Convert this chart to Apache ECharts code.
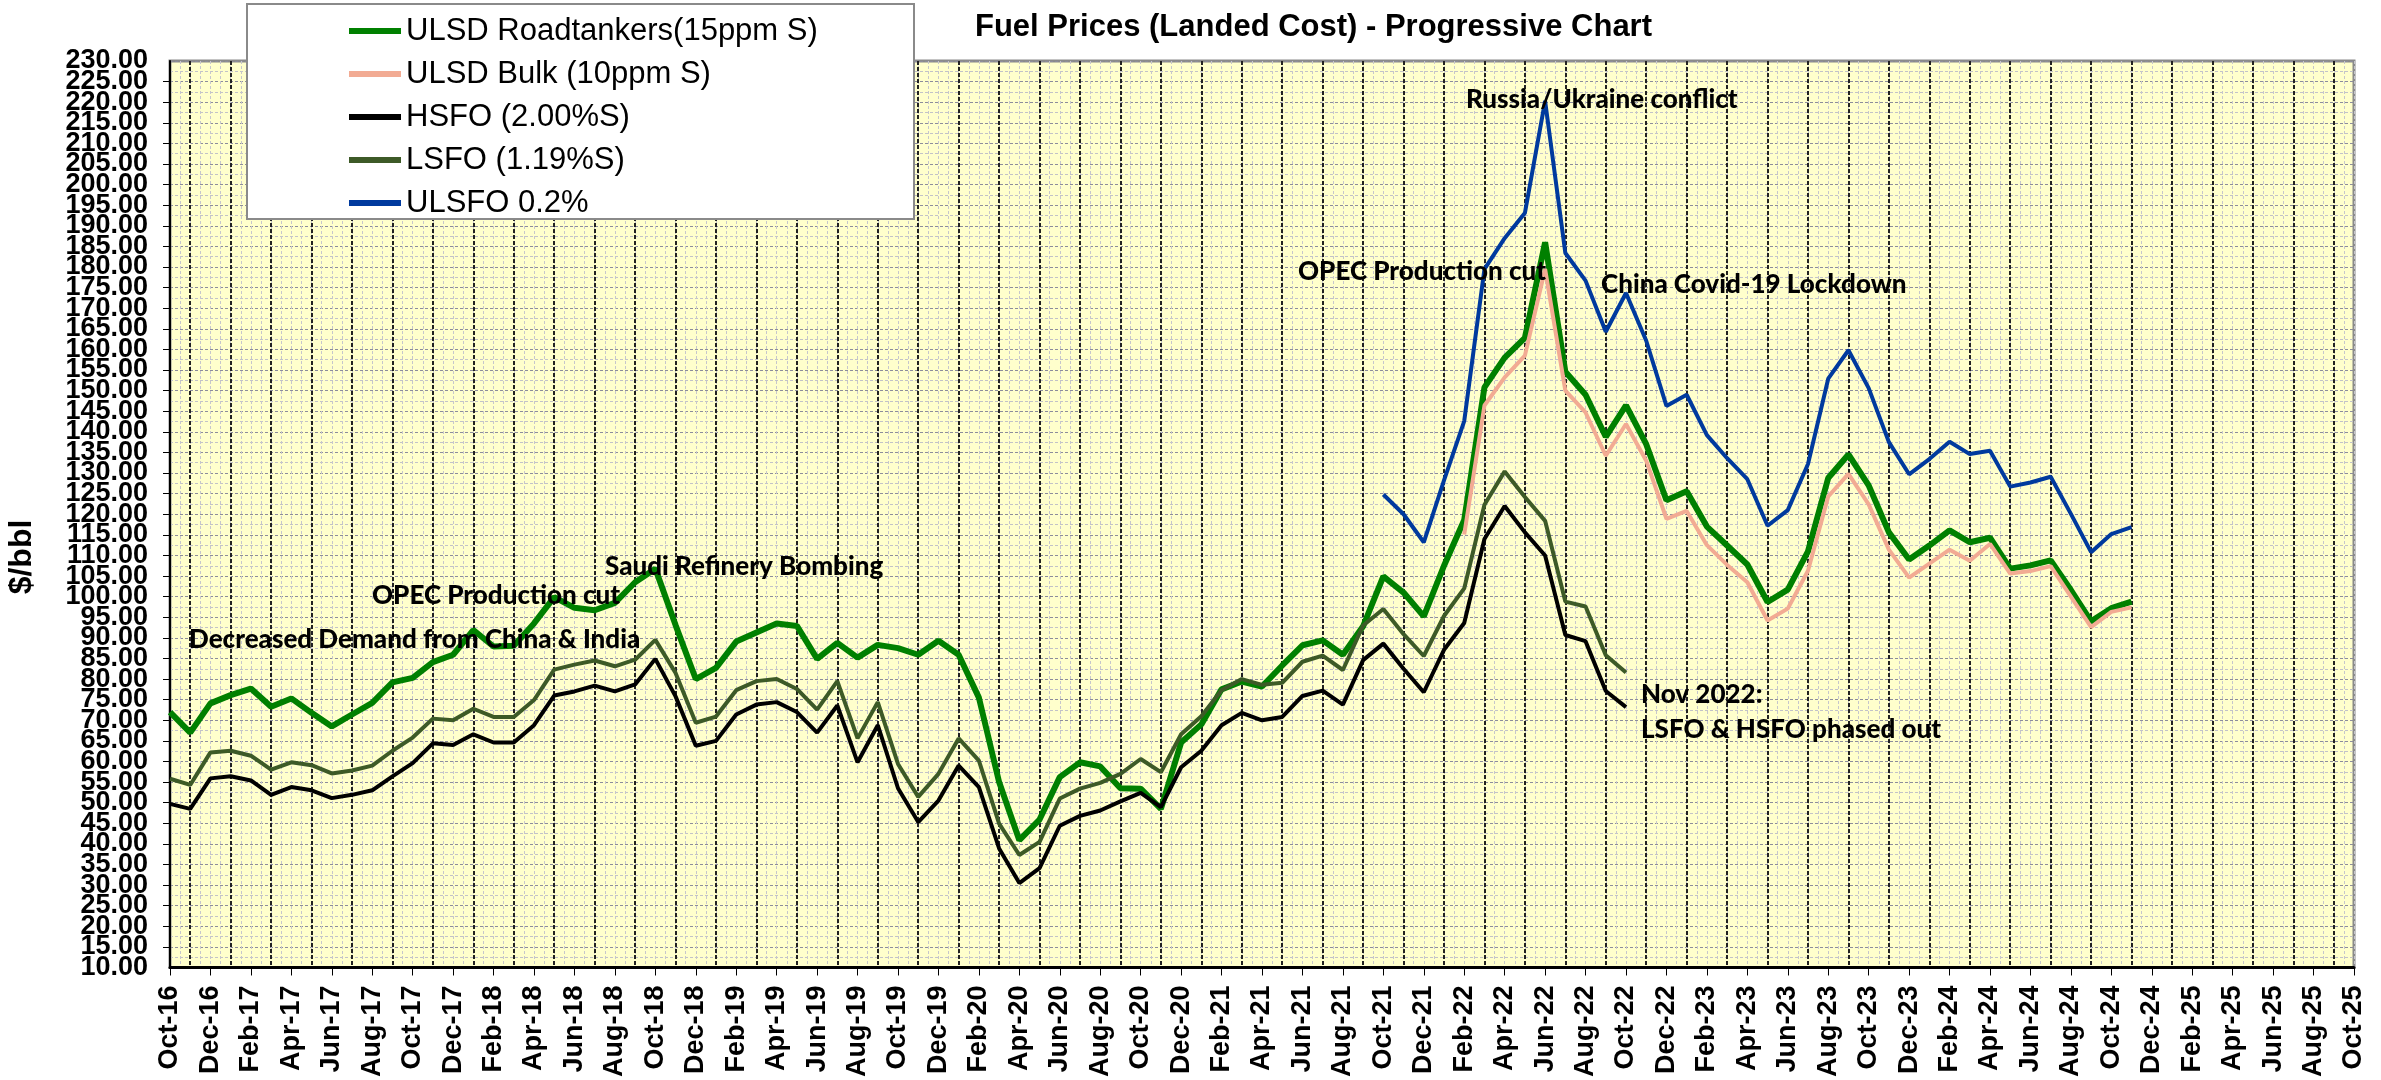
<!DOCTYPE html>
<html>
<head>
<meta charset="utf-8">
<title>Fuel Prices (Landed Cost) - Progressive Chart</title>
<script src="https://cdn.jsdelivr.net/npm/echarts@6/dist/echarts.min.js"></script>
<style>
  html, body { margin: 0; padding: 0; background: #fff; }
  #chart { width: 2381px; height: 1080px; }
</style>
</head>
<body>
<div id="chart"></div>
<script>
  // x axis: monthly from Oct-16 to Oct-25
  var monthNames = ['Jan', 'Feb', 'Mar', 'Apr', 'May', 'Jun', 'Jul', 'Aug', 'Sep', 'Oct', 'Nov', 'Dec'];
  var categories = [];
  for (var k = 0; k < 109; k++) {
    categories.push(monthNames[(9 + k) % 12] + '-' + (16 + Math.floor((9 + k) / 12)));
  }

  // ULSD Roadtankers (15ppm S), Oct-16 .. Nov-24
  var ulsdRoad = [
    72.0, 67.0, 74.1, 76.1, 77.7, 73.3, 75.3, 71.8, 68.5, 71.4, 74.2, 79.2,
    80.3, 84.1, 85.9, 91.9, 87.9, 88.1, 93.5, 99.9, 97.3, 96.7, 98.5, 103.5,
    106.8, 93.1, 80.0, 82.7, 89.1, 91.3, 93.5, 92.9, 84.9, 88.8, 85.2, 88.3,
    87.5, 85.9, 89.3, 85.9, 75.5, 55.0, 40.9, 45.9, 56.2, 59.8, 58.8, 53.5,
    53.4, 48.5, 64.6, 69.0, 77.5, 79.4, 78.2, 83.3, 88.2, 89.4, 85.9, 92.8,
    104.9, 101.0, 95.2, 107.5, 118.6, 150.8, 158.0, 162.8, 186.0, 154.6, 149.0, 138.8,
    146.4, 137.0, 123.4, 125.6, 117.0, 112.4, 107.8, 98.7, 101.7, 111.0, 128.8, 134.5,
    127.0, 115.6, 109.0, 112.4, 116.1, 113.2, 114.3, 106.8, 107.6, 108.8, 101.6, 94.0,
    97.2, 98.8
  ];

  // ULSD Bulk (10ppm S), Feb-22 .. Nov-24
  var ulsdBulk = [
    115.1, 146.4, 153.2, 158.5, 179.5, 150.0, 144.7, 134.2, 141.9, 133.0, 118.9, 120.8,
    112.5, 107.7, 103.5, 94.2, 97.1, 106.3, 124.3, 129.8, 122.4, 111.4, 104.6, 108.0,
    111.4, 108.7, 112.8, 105.6, 106.2, 107.4, 100.0, 92.6, 96.3, 97.4
  ];

  // HSFO (2.00%S), Oct-16 .. Oct-22
  var hsfo = [
    49.7, 48.5, 55.9, 56.4, 55.4, 51.9, 53.8, 53.0, 51.1, 51.9, 53.0, 56.4,
    59.6, 64.4, 64.0, 66.6, 64.6, 64.6, 68.8, 76.0, 77.0, 78.4, 77.0, 78.7,
    84.9, 75.8, 63.8, 65.0, 71.4, 73.8, 74.4, 72.0, 67.0, 73.6, 59.8, 68.8,
    53.5, 45.3, 50.5, 59.0, 53.8, 38.9, 30.5, 34.1, 44.4, 46.8, 48.1, 50.3,
    52.4, 48.9, 58.6, 62.6, 68.8, 71.8, 70.0, 70.8, 75.9, 77.2, 73.8, 84.6,
    88.6, 82.5, 76.8, 87.1, 93.6, 114.0, 122.0, 115.6, 110.0, 90.7, 89.2, 77.1,
    73.2
  ];

  // LSFO (1.19%S), Oct-16 .. Oct-22
  var lsfo = [
    55.8, 54.3, 62.2, 62.6, 61.4, 58.0, 59.8, 59.1, 57.1, 57.8, 59.0, 62.6,
    65.8, 70.4, 70.0, 72.8, 70.8, 70.8, 74.9, 82.3, 83.5, 84.5, 83.1, 84.7,
    89.5, 81.5, 69.4, 70.9, 77.3, 79.5, 80.0, 77.6, 72.6, 79.5, 65.6, 74.4,
    59.4, 51.4, 57.0, 65.6, 60.2, 44.9, 37.3, 40.5, 51.0, 53.4, 54.8, 57.0,
    60.6, 57.4, 66.6, 71.0, 77.3, 80.0, 78.6, 79.1, 84.2, 85.7, 82.2, 93.0,
    97.0, 90.9, 85.6, 95.3, 102.0, 122.3, 130.4, 124.2, 118.4, 98.8, 97.6, 85.8,
    81.6
  ];

  // ULSFO 0.2%, Oct-21 .. Nov-24
  var ulsfo = [
    124.8, 120.0, 113.2, 128.2, 142.6, 179.5, 187.0, 193.1, 220.3, 183.4, 176.7, 164.3,
    173.7, 162.1, 146.3, 149.0, 139.2, 133.6, 128.5, 117.2, 121.0, 132.2, 152.9, 159.8,
    150.6, 137.5, 129.7, 133.4, 137.6, 134.6, 135.4, 126.7, 127.7, 129.1, 120.1, 110.8,
    115.2, 116.9
  ];

  var ulsdBulkStart = 64;   // Feb-22
  var ulsfoStart = 60;      // Oct-21

  var seriesNames = ['ULSD Roadtankers(15ppm S)', 'ULSD Bulk (10ppm S)', 'HSFO (2.00%S)', 'LSFO (1.19%S)', 'ULSFO 0.2%'];
  var seriesColors = ['#008000', '#F2AB93', '#000000', '#3D5A27', '#003A9E'];

  var yMin = 10, yMax = 230, yStep = 5;

  //补齐前面的空月份
  function padStart(arr, n) {
    var out = [];
    for (var i = 0; i < n; i++) out.push(null);
    return out.concat(arr);
  }

  var notes = [
    {text: 'Decreased Demand from China & India', x: 189, y: 640},
    {text: 'OPEC Production cut', x: 372, y: 596},
    {text: 'Saudi Refinery Bombing', x: 605, y: 567},
    {text: 'Russia/Ukraine conflict', x: 1466, y: 100},
    {text: 'OPEC Production cut', x: 1298, y: 272},
    {text: 'China Covid-19 Lockdown', x: 1601, y: 285},
    {text: 'Nov 2022:', x: 1641, y: 695},
    {text: 'LSFO & HSFO phased out', x: 1641, y: 730}
  ];

  var arialFont = '"Liberation Sans", Arial, sans-serif';
  var yLabelStyle = {margin: 22, color: '#000', fontFamily: arialFont, fontWeight: 'bold', fontSize: 27};

  var chart = echarts.init(document.getElementById('chart'));

  var graphics = [
    {
      type: 'rect', z: 50,
      shape: {x: 247, y: 4, width: 667, height: 215},
      style: {fill: '#fff', stroke: '#8a8a8a', lineWidth: 2}
    },
    {
      type: 'text', z: 50,
      style: {
        text: 'Fuel Prices (Landed Cost) - Progressive Chart',
        x: 975, y: 27, textVerticalAlign: 'middle',
        font: 'bold 31px ' + arialFont, fill: '#000'
      }
    },
    {
      type: 'text', z: 50, rotation: Math.PI / 2, x: 22, y: 557,
      style: {
        text: '$/bbl', textAlign: 'center', textVerticalAlign: 'middle',
        font: 'bold 32px ' + arialFont, fill: '#000'
      }
    }
  ];
  notes.forEach(function (n) {
    graphics.push({
      type: 'text', z: 40,
      style: {
        text: n.text, x: n.x, y: n.y, textVerticalAlign: 'middle',
        font: '900 26px Lato, "Open Sans", sans-serif', fill: '#000'
      }
    });
  });

  chart.setOption({
    animation: false,
    backgroundColor: '#fff',
    grid: {
      left: 170, right: 27, top: 61, bottom: 107,
      show: true, backgroundColor: '#FFFFCC', borderColor: '#8a8a8a', borderWidth: 3
    },
    legend: {
      orient: 'vertical', left: 344, top: 9, z: 60,
      itemWidth: 52, itemHeight: 6, itemGap: 9, icon: 'rect',
      textStyle: {fontFamily: arialFont, fontSize: 31, lineHeight: 34, color: '#000'},
      data: seriesNames
    },
    xAxis: [
      {
        type: 'category',
        data: categories,
        boundaryGap: false,
        axisLine: {lineStyle: {color: '#000', width: 3}},
        axisTick: {show: true, interval: 1, length: 8, lineStyle: {color: '#000', width: 1}},
        axisLabel: {
          interval: 1, rotate: 90, margin: 18, color: '#000',
          fontFamily: arialFont, fontWeight: 'bold', fontSize: 27
        },
        splitLine: {
          show: true,
          interval: function (index) { return index % 2 === 1; },
          lineStyle: {color: '#222', width: 2, type: [4, 2]}
        },
        z: 3
      },
      {
        // 半个月的浅色网格线
        type: 'value', position: 'top', min: 0, max: 108, interval: 0.5,
        axisLine: {show: false}, axisTick: {show: false}, axisLabel: {show: false},
        splitLine: {show: true, lineStyle: {color: '#c6c6cc', width: 1, type: [3, 2]}}
      }
    ],
    yAxis: [
      {
        type: 'value', min: yMin, max: yMax, interval: yStep,
        axisLine: {show: true, lineStyle: {color: '#000', width: 2}},
        axisTick: {show: true, length: 7, lineStyle: {color: '#000'}},
        axisLabel: Object.assign({
          formatter: function (v) { return v.toFixed(2); }
        }, yLabelStyle),
        splitLine: {lineStyle: {color: '#8c8c9c', width: 1.2, type: [3, 2]}},
        minorTick: {show: false, splitNumber: 2},
        minorSplitLine: {show: true, lineStyle: {color: '#c2c2c8', width: 1, type: [3, 2]}}
      },
      {
        // 只画最上和最下两个刻度标签
        type: 'value', position: 'left', min: yMin, max: yMax, interval: yStep,
        axisLine: {show: false}, axisTick: {show: false}, splitLine: {show: false},
        axisLabel: Object.assign({
          showMinLabel: true, showMaxLabel: true,
          formatter: function (v) { return (v === yMin || v === yMax) ? v.toFixed(2) : ''; }
        }, yLabelStyle)
      }
    ],
    graphic: graphics,
    series: [
      {name: seriesNames[0], type: 'line', data: ulsdRoad, symbol: 'none', z: 5,
        lineStyle: {width: 6, color: seriesColors[0]}, itemStyle: {color: seriesColors[0]}},
      {name: seriesNames[1], type: 'line', data: padStart(ulsdBulk, ulsdBulkStart), symbol: 'none', z: 6,
        lineStyle: {width: 4, color: seriesColors[1]}, itemStyle: {color: seriesColors[1]}},
      {name: seriesNames[2], type: 'line', data: hsfo, symbol: 'none', z: 5,
        lineStyle: {width: 4, color: seriesColors[2]}, itemStyle: {color: seriesColors[2]}},
      {name: seriesNames[3], type: 'line', data: lsfo, symbol: 'none', z: 5,
        lineStyle: {width: 4, color: seriesColors[3]}, itemStyle: {color: seriesColors[3]}},
      {name: seriesNames[4], type: 'line', data: padStart(ulsfo, ulsfoStart), symbol: 'none', z: 5,
        lineStyle: {width: 4, color: seriesColors[4]}, itemStyle: {color: seriesColors[4]}}
    ]
  });
</script>
</body>
</html>
